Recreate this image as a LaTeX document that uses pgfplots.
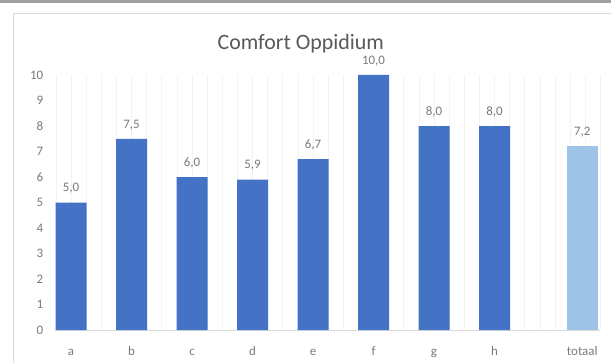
\documentclass[border=0pt]{standalone}
\usepackage{pgfplots}
\pgfplotsset{compat=1.18}
\usepackage{fontspec}
\setmainfont{Carlito}
\definecolor{barblue}{HTML}{4472C4}
\definecolor{barlight}{HTML}{9DC3E6}
\definecolor{txtgray}{HTML}{7A7A7A}
\definecolor{titlegray}{HTML}{595959}
\definecolor{bordergray}{HTML}{D9D9D9}
\definecolor{gridgray}{HTML}{F3F3F3}
\begin{document}
\begin{tikzpicture}[x=1bp,y=1bp]
\useasboundingbox (0,0) rectangle (611,363);
\fill[white] (0,0) rectangle (611,363);
\fill[gray!75] (0,360) rectangle (611,363);
\draw[bordergray, line width=1bp] (13.5,0) -- (13.5,349.5) -- (611,349.5);
\begin{axis}[
  at={(54.7bp,33bp)}, anchor=south west,
  scale only axis, width=545.7bp, height=255bp,
  xmin=-0.27, xmax=8.75, ymin=0, ymax=10,
  axis y line*=left, axis x line*=bottom,
  y axis line style={draw=none},
  x axis line style={bordergray, line width=1bp, -},
  ytick={0,1,...,10},
  xtick={0,1,2,3,4,5,6,7,8.45},
  xticklabels={a,b,c,d,e,f,g,h,totaal},
  minor xtick={-0.25,0,...,8.75},
  xminorgrids, minor grid style={gridgray, line width=0.8bp},
  tick style={draw=none},
  major tick length=0pt, minor tick length=0pt,
  ticklabel style={font=\fontsize{13}{15}\selectfont, text=txtgray},
  xticklabel style={yshift=-13bp, text height=9bp, text depth=3bp},
  yticklabel style={xshift=-8bp},
  /pgf/number format/assume math mode=true,
  title={Comfort Oppidium},
  title style={at={(rel axis cs:0.451,1.098)}, anchor=center, font=\fontsize{22}{26}\selectfont, text=titlegray},
  ybar, bar width=31bp,
  nodes near coords,
  nodes near coords style={font=\fontsize{13}{15}\selectfont, text=txtgray, anchor=center, yshift=14bp,
    /pgf/number format/.cd, fixed, fixed zerofill, precision=1, use comma},
  clip=false,
]
\addplot[fill=barblue, draw=none, bar shift=0pt] coordinates {(0,5.0) (1,7.5) (2,6.0) (3,5.9) (4,6.7) (5,10.0) (6,8.0) (7,8.0)};
\addplot[fill=barlight, draw=none, bar shift=0pt] coordinates {(8.45,7.2)};
\end{axis}
\end{tikzpicture}
\end{document}
